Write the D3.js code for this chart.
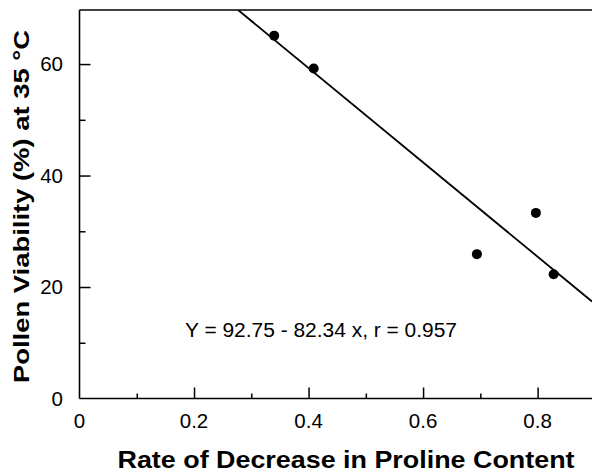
<!DOCTYPE html>
<html><head><meta charset="utf-8">
<script src="https://cdn.jsdelivr.net/npm/d3@7"></script>
<style>body{margin:0;background:#fff}svg{display:block}text{font-family:"Liberation Sans",Arial,Helvetica,sans-serif;fill:#000}</style>
</head><body>
<script>
// Data
const ratePoints = [0.340, 0.409, 0.694, 0.797, 0.828];
const viabilityPoints = [65.1, 59.2, 25.9, 33.3, 22.3];
const fitLineX = [0.277, 0.895];
const fitLineY = [69.7, 17.4];
const xMajorTicks = [0, 0.2, 0.4, 0.6, 0.8];
const xMinorTicks = [0.1, 0.3, 0.5, 0.7];
const yMajorTicks = [0, 20, 40, 60];
const yMinorTicks = [10, 30, 50];
const equationLabel = "Y = 92.75 - 82.34 x, r = 0.957";
const xTitle = "Rate of Decrease in Proline Content";
const yTitle = "Pollen Viability (%) at 35 °C";

const W = 592, H = 473;
const svg = d3.select("body").append("svg").attr("width", W).attr("height", H);

const x = d3.scaleLinear().domain([0, 0.895]).range([79.5, 592]);
const y = d3.scaleLinear().domain([0, 69.7]).range([398.5, 10]);

const g = svg.append("g");

// clip
svg.append("clipPath").attr("id","clip").append("rect")
  .attr("x", x(0)).attr("y", y(69.7)).attr("width", x(0.895)-x(0)).attr("height", y(0)-y(69.7));

// frame: left, bottom, top
g.append("line").attr("x1", x(0)).attr("x2", x(0)).attr("y1", y(69.7)).attr("y2", y(0)).attr("stroke","#000").attr("stroke-width",1.6);
g.append("line").attr("x1", x(0)).attr("x2", x(0.895)).attr("y1", y(0)).attr("y2", y(0)).attr("stroke","#000").attr("stroke-width",1.6);
g.append("line").attr("x1", x(0)).attr("x2", x(0.895)).attr("y1", y(69.7)).attr("y2", y(69.7)).attr("stroke","#000").attr("stroke-width",1.6);

// axes with inward ticks
const xAxisMajor = d3.axisTop(x).tickValues(xMajorTicks.filter(d=>d>0)).tickSize(11).tickFormat("");
const xAxisMinor = d3.axisTop(x).tickValues(xMinorTicks).tickSize(5).tickFormat("");
const yAxisMajor = d3.axisRight(y).tickValues(yMajorTicks.filter(d=>d>0)).tickSize(11).tickFormat("");
const yAxisMinor = d3.axisRight(y).tickValues(yMinorTicks).tickSize(6).tickFormat("");
[[xAxisMajor,`translate(0,${y(0)})`],[xAxisMinor,`translate(0,${y(0)})`],
 [yAxisMajor,`translate(${x(0)},0)`],[yAxisMinor,`translate(${x(0)},0)`]].forEach(([ax,t])=>{
  const a = g.append("g").attr("transform", t).call(ax);
  a.select(".domain").remove();
  a.selectAll(".tick line").attr("stroke","#000").attr("stroke-width",1.5);
});

// tick labels
g.selectAll(".xl").data(xMajorTicks).join("text")
  .attr("x", d=>x(d)).attr("y", 428).attr("text-anchor","middle")
  .style("font-size","20.5px").text(d=> d===0 ? "0" : d3.format(".1f")(d));
g.selectAll(".yl").data(yMajorTicks).join("text")
  .attr("x", 63).attr("y", d=>y(d)).attr("dy","0.36em").attr("text-anchor","end")
  .style("font-size","20.5px").text(d=>d);

// fit line
g.append("line").attr("clip-path","url(#clip)")
  .attr("x1", x(fitLineX[0])).attr("y1", y(fitLineY[0]))
  .attr("x2", x(fitLineX[1])).attr("y2", y(fitLineY[1]))
  .attr("stroke","#000").attr("stroke-width",1.8);

// points
g.selectAll(".pt").data(ratePoints).join("circle")
  .attr("cx", d=>x(d)).attr("cy", (d,i)=>y(viabilityPoints[i])).attr("r",5).attr("fill","#000");

// equation
g.append("text").attr("x", 185).attr("y", 336.5).style("font-size","20.5px")
  .attr("textLength", 272).attr("lengthAdjust","spacingAndGlyphs").text(equationLabel);

// titles
g.append("text").attr("x", 346).attr("y", 468).attr("text-anchor","middle")
  .style("font-size","24px").style("font-weight","bold")
  .attr("textLength", 457).attr("lengthAdjust","spacingAndGlyphs").text(xTitle);
g.append("text").attr("transform","translate(28.5,206.5) rotate(-90)").attr("text-anchor","middle")
  .style("font-size","22px").style("font-weight","bold")
  .attr("textLength", 353).attr("lengthAdjust","spacingAndGlyphs").text(yTitle);
</script>
</body></html>
